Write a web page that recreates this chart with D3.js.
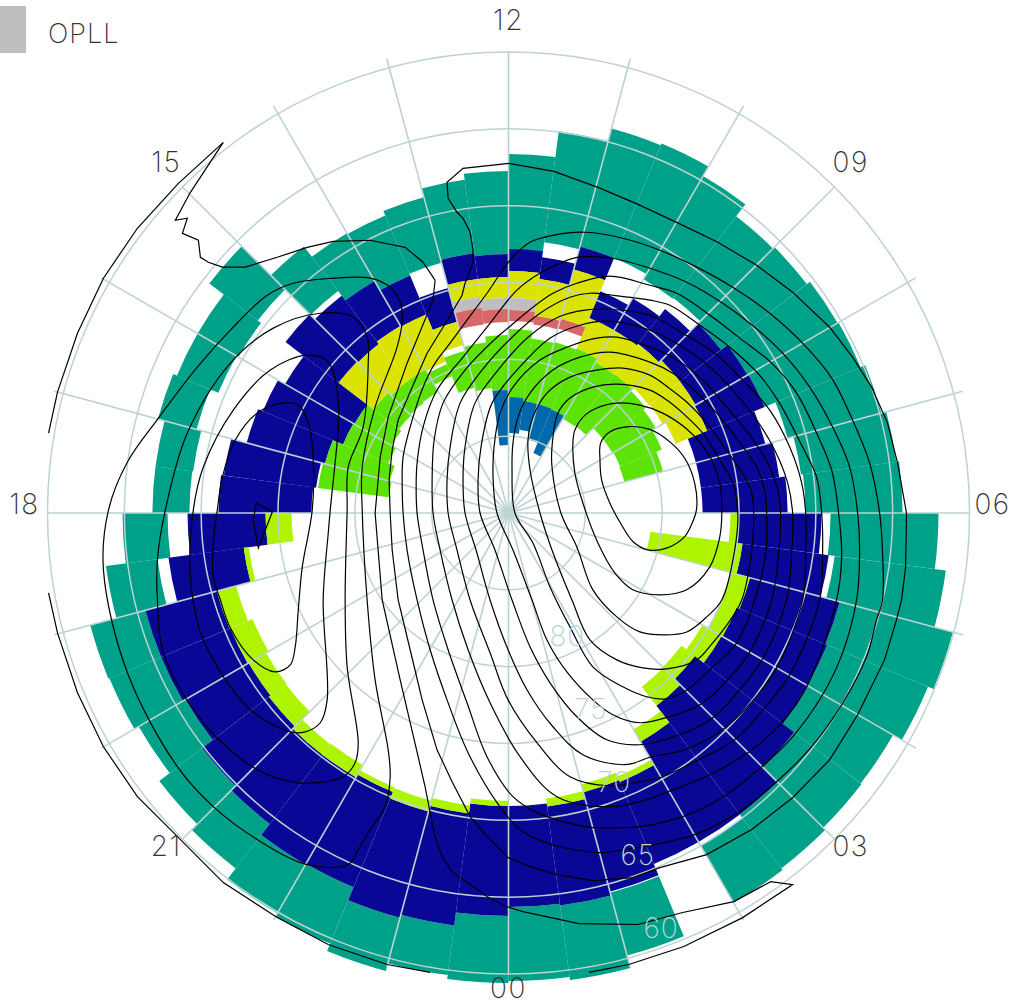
<!DOCTYPE html>
<html>
<head>
<meta charset="utf-8">
<script src="https://cdn.jsdelivr.net/npm/d3@7"></script>
<style>
  html, body { margin: 0; padding: 0; background: #fff; }
  text { font-family: Inter, Lato, sans-serif; font-weight: 200; }
</style>
</head>
<body>
<div id="container"></div>
<script>
// half hour MLT bins, clockwise from noon
const mltBins = [12,11.5,11,10.5,10,9.5,9,8.5,8,7.5,7,6.5,6,5.5,5,4.5,4,3.5,3,2.5,2,1.5,1,0.5,0,23.5,23,22.5,22,21.5,21,20.5,20,19.5,19,18.5,18,17.5,17,16.5,16,15.5,15,14.5,14,13.5,13,12.5]

const hourLabels = ['00', '03', '06', '09', '12', '15', '18', '21']
const latLabels = [60, 65, 70, 75, 80]
const latRings = [60, 65, 70, 75, 80, 85]

const tealPole = [72.88,72.23,72.04,72.04,72.43,72.36,72.56,72.04,71.97,71.19,70.80,70.67,69.04,68.59,67.68,67.55,67.48,66.57,65.27,65.01,null,64.42,64.23,64.36,63.77,62.93,62.73,63.64,63.58,64.49,64.88,65.73,65.53,65.53,66.96,67.81,69.24,69.30,68.98,69.56,69.70,69.43,71.78,72.56,73.27,73.14,72.95,73.14]
const tealEq = [66.64,64.94,64.10,63.97,64.68,65.66,65.53,65.27,65.20,64.88,64.55,64.36,62.02,61.30,60.06,60.45,61.10,61.04,60.84,60.71,null,60.19,59.35,59.54,59.41,59.67,59.15,59.67,59.93,60.84,61.36,62.21,61.89,61.82,63.58,64.88,66.83,66.83,66.38,66.64,66.64,65.46,68.13,68.98,69.04,68.72,68.13,67.74]

const navyPole = [74.25,74.64,73.60,76.27,76.27,76.14,75.94,75.94,76.01,77.37,77.37,77.37,75.03,74.64,73.73,73.93,73.99,74.71,74.19,72.82,71.06,71.19,70.74,70.93,70.93,70.28,69.89,70.35,70.15,70.15,70.35,70.48,70.41,70.35,72.62,74.19,77.18,77.37,77.63,78.35,78.42,76.07,76.14,75.94,76.01,77.11,74.64,74.64]
const navyEq = [72.82,73.21,72.04,74.38,73.86,73.27,72.56,72.04,71.97,72.69,72.23,71.84,69.63,68.98,67.68,67.55,67.48,66.57,65.27,65.27,65.27,64.49,64.23,64.36,63.77,62.93,62.73,63.64,63.58,64.49,64.88,65.73,65.53,65.53,67.68,69.11,71.13,71.32,72.36,72.69,73.21,71.71,72.17,72.56,73.27,74.84,72.95,73.14]

const limeBins = [12,13,14,15,16,17,18,19,20,21,22,24,25,26,27,28,29,30,31,32,33,34,35]
const limePole = [75.55,80.69,75.03,74.97,75.42,75.81,75.75,73.73,71.45,71.71,71.26,71.26,70.80,70.61,70.67,71.06,71.00,71.71,71.78,71.97,71.65,72.95,75.88]
const limeEq = [75.03,74.64,73.73,73.93,73.99,74.71,74.19,72.82,71.06,71.19,70.74,70.93,70.28,69.89,70.35,70.15,70.15,70.35,70.48,70.41,70.35,72.62,74.19]

const yellowBins = [0,1,2,3,4,5,6,7,8,41,42,43,44,45,46,47]
const yellowPole = [76.01,77.05,76.92,78.42,78.68,78.61,78.48,78.42,78.22,78.94,79.20,79.20,79.33,78.68,75.81,76.01]
const yellowEq = [74.25,74.64,73.60,76.27,76.27,76.14,75.94,75.94,76.01,76.07,76.14,75.94,76.01,77.11,74.64,74.64]

const grayBins = [46,47,0]
const grayPole = [76.53,76.72,76.79]
const grayEq = [75.81,76.01,76.01]

const redBins = [46,47,0,1,2]
const redPole = [77.63,77.57,77.50,77.63,77.57]
const redEq = [76.53,76.72,76.79,77.05,76.92]

const greenBins = [0,1,2,3,4,5,6,7,8,9,37,38,39,40,41,42,43,44,45,46,47]
const greenPole = [82.45,82.65,82.65,82.71,82.91,82.84,82.19,82.19,82.13,82.19,82.13,81.99,81.54,81.21,81.02,80.95,80.89,80.37,81.54,81.80,81.99]
const greenEq = [78.03,78.55,78.48,78.42,78.68,78.61,78.74,78.94,79.20,79.59,77.50,77.63,78.35,78.42,78.94,79.20,79.20,79.52,79.07,78.81,78.42]

const blueBins = [47,0,1,2,3]
const bluePole = [85.57,84.79,84.53,85.05,85.77]
const blueEq = [81.99,82.45,82.65,82.65,82.71]

// potential contours, [east, north] in degrees of colatitude from the pole
const dawn1 = [[5.95,3.56],[5.99,4.53],[6.6,5.28],[7.68,5.61],[9.2,5.44],[10.5,4.63],[11.47,3.56],[12.12,1.93],[12.23,0.2],[11.8,-0.99],[11.47,-1.54],[10.28,-2.29],[9.09,-2.4],[8.11,-1.87],[7.36,-0.78],[6.6,0.63],[6.06,2.15]]
const dawn2 = [[4.19,4.55],[4.32,5.4],[4.84,6.24],[5.75,6.83],[7.05,7.15],[8.55,7.02],[10.04,6.5],[11.67,5.4],[12.97,3.9],[13.75,1.95],[13.88,0],[13.75,-1.56],[13.1,-3.51],[11.6,-5.0],[9.85,-5.33],[8.09,-5.0],[6.92,-3.9],[5.82,-1.95],[4.84,0.65],[4.32,2.6]]
const dawn3 = [[3.41,0],[2.83,2.99],[2.83,4.29],[3.22,6.5],[4.0,7.48],[5.49,8.19],[7.05,8.39],[9.2,8.0],[10.3,7.35],[11.34,6.5],[12.64,5.2],[13.88,3.25],[14.59,1.95],[14.92,0],[14.72,-2.41],[13.88,-5.66],[12.9,-6.76],[11.6,-7.74],[10.17,-7.93],[8.55,-7.74],[7.05,-6.76],[5.49,-5.0],[4.45,-2.21]]
const dawn4 = [[2.05,0],[1.4,2.8],[1.27,4.75],[1.59,6.24],[2.5,7.8],[4.0,8.84],[5.75,9.3],[7.44,9.43],[9.2,8.97],[10.37,8.19],[11.6,7.22],[12.9,5.85],[14.27,3.97],[15.37,2.34],[15.83,1.3],[15.96,0],[15.83,-2.41],[15.18,-5.66],[14.07,-7.48],[13.29,-8.45],[12.25,-9.56],[10.3,-10.14],[8.74,-10.08],[7.05,-9.56],[5.3,-8.26],[4.13,-5.66],[2.83,-2.41]]
const dawn5 = [[0.42,0],[0.23,2.8],[0.29,4.55],[0.62,6.24],[1.4,7.8],[2.89,9.3],[4.65,10.14],[6.6,10.47],[9.2,9.82],[10.69,9.1],[11.93,8.13],[13.55,6.5],[14.92,4.75],[16.15,2.99],[16.67,1.5],[16.8,0],[16.74,-2.6],[16.02,-5.66],[14.85,-8.45],[13.23,-10.08],[11.54,-11.57],[10.24,-12.09],[9.0,-11.96],[7.44,-11.31],[5.49,-10.01],[4.0,-7.41],[2.7,-4.81],[1.59,-1.95]]
const dawn6 = [[-0.75,0],[-1.0,2.15],[-0.94,4.29],[-0.55,6.5],[0.29,8.19],[2.05,9.95],[3.8,10.79],[5.75,11.38],[7.05,11.44],[9.2,10.79],[10.69,10.14],[12.45,8.84],[14.2,6.89],[15.7,5.07],[16.87,3.25],[17.52,1.5],[17.71,0],[17.58,-2.6],[17.13,-5.66],[15.7,-9.04],[14.14,-10.99],[12.45,-12.48],[10.63,-13.2],[8.55,-13.65],[6.79,-13.13],[5.49,-12.16],[3.8,-10.34],[2.5,-8.26],[1.53,-5.66],[0.29,-2.41]]
const dawn7 = [[-1.85,0],[-1.98,2.15],[-1.79,4.29],[-1.07,7.15],[0.55,9.3],[2.7,11.38],[4.65,12.22],[6.4,12.48],[9.2,11.9],[11.34,10.79],[12.97,9.62],[14.59,8.0],[16.15,6.05],[17.32,4.1],[18.17,1.95],[18.49,0],[18.43,-2.6],[18.1,-5.66],[16.54,-9.49],[15.05,-11.5],[13.29,-13.33],[11.15,-14.43],[8.55,-15.08],[6.4,-14.76],[4.45,-13.26],[2.7,-11.05],[1.4,-8.71],[0.23,-5.66],[-0.88,-2.41]]
const dawn8 = [[-2.83,0],[-2.96,2.15],[-2.83,4.29],[-2.18,7.15],[-0.68,9.3],[1.27,11.44],[3.22,12.74],[4.97,13.2],[6.6,13.26],[9.2,12.87],[11.34,11.7],[13.42,10.4],[15.37,8.52],[17.0,6.7],[18.3,4.29],[19.08,1.95],[19.34,0],[19.34,-2.6],[19.14,-5.66],[17.45,-10.08],[15.83,-12.29],[14.01,-14.04],[11.47,-15.41],[9.33,-15.86],[7.57,-16.38],[4.84,-15.73],[2.89,-13.91],[1.2,-11.5],[-0.03,-8.9],[-1.2,-5.66],[-2.11,-2.41]]
const dawn9 = [[-3.93,0],[-4.0,2.15],[-3.8,4.29],[-3.15,7.15],[-1.72,9.3],[0.23,11.44],[2.05,13.0],[4.0,14.04],[5.3,14.3],[6.79,14.17],[9.2,13.85],[10.5,13.52],[12.45,12.22],[14.4,10.79],[16.22,9.1],[17.52,7.35],[19.14,4.29],[20.05,2.34],[20.38,0],[20.44,-2.6],[20.25,-5.66],[18.3,-10.53],[16.67,-12.68],[14.72,-14.76],[12.12,-16.19],[9.85,-17.23],[8.55,-17.49],[6.6,-17.75],[4.0,-17.16],[1.85,-14.95],[-0.03,-12.16],[-1.2,-9.1],[-2.5,-5.66],[-3.35,-2.41]]
const dawn10 = [[-4.91,0],[-4.97,2.15],[-4.84,4.75],[-4.26,7.15],[-2.83,9.3],[-0.75,11.44],[0.03,12.09],[1.59,13.39],[2.89,14.3],[4.45,14.95],[6.6,15.41],[9.2,14.82],[10.95,14.3],[13.29,12.74],[15.05,11.38],[17.13,9.75],[18.75,7.8],[20.05,5.2],[21.03,2.8],[21.48,0],[21.68,-2.73],[21.35,-5.66],[19.47,-11.18],[17.84,-13.59],[15.57,-15.6],[13.1,-17.03],[10.37,-18.14],[9.0,-18.66],[6.6,-19.11],[3.15,-18.46],[0.75,-15.86],[-1.2,-12.35],[-2.63,-8.9],[-3.67,-5.66],[-4.45,-2.41]]
const dawn11 = [[-5.95,0],[-6.01,1.69],[-5.95,3.25],[-5.56,5.59],[-4.65,8.0],[-2.96,10.14],[-1.4,12.09],[0.55,14.5],[2.05,15.6],[4.45,16.64],[6.73,16.58],[9.2,15.93],[11.6,15.02],[13.94,13.65],[15.7,12.35],[17.84,10.4],[19.6,8.19],[21.09,5.59],[22.2,2.99],[22.72,0],[22.85,-2.73],[22.65,-5.66],[21.74,-9.1],[20.44,-11.83],[18.43,-14.63],[16.48,-16.51],[13.88,-18.53],[11.34,-19.76],[8.55,-20.41],[7.38,-20.48],[5.49,-20.48],[3.8,-20.15],[1.85,-19.5],[0.29,-18.46],[-1.4,-15.86],[-2.7,-12.35],[-3.93,-8.9],[-4.91,-5.66],[-5.56,-2.41]]
const dawn12 = [[-6.86,0],[-6.92,1.95],[-6.86,3.64],[-6.27,6.05],[-5.56,8.19],[-4.78,9.75],[-3.8,11.05],[-2.7,12.55],[-1.4,14.3],[0.1,16.45],[1.4,17.62],[2.89,18.07],[5.04,18.27],[7.44,17.88],[9.85,17.1],[12.25,16.0],[14.59,14.69],[17.0,13.0],[19.14,11.05],[21.03,8.78],[22.39,6.05],[23.5,3.25],[24.15,0],[24.34,-2.6],[24.34,-5.66],[23.95,-6.96],[23.3,-9.36],[21.68,-12.48],[19.73,-15.21],[17.45,-17.49],[15.05,-19.43],[12.12,-20.93],[8.35,-21.78],[5.95,-22.1],[4.19,-21.9],[2.24,-21.39],[0.75,-20.6],[-0.75,-18.85],[-2.63,-15.6],[-4.0,-12.16],[-5.1,-8.9],[-5.95,-5.66],[-6.6,-2.41]]
const dawn13 = [[-7.7,0],[-7.77,2.15],[-7.57,4.1],[-7.18,6.05],[-6.27,8.19],[-5.3,10.4],[-4.26,12.09],[-3.02,14.17],[-2.83,14.95],[-2.31,16.25],[-2.31,17.1],[-2.5,18.27],[-2.96,19.18],[-3.35,19.57],[-3.93,20.48],[-4.0,21.52],[-2.96,22.43],[0.03,22.75],[2.96,22.23],[5.82,21.19],[8.29,20.15],[11.08,18.85],[13.62,17.62],[16.15,16.12],[18.49,14.37],[20.9,12.09],[22.39,10.14],[23.63,8.19],[24.67,5.85],[25.32,3.25],[25.9,0],[25.84,-3.51],[25.58,-5.66],[25.25,-6.96],[24.47,-9.56],[22.72,-13.13],[20.9,-16.06],[18.49,-18.53],[15.83,-20.6],[12.9,-22.23],[9.85,-23.08],[8.09,-23.73],[5.49,-23.92],[3.15,-23.53],[1.4,-23.01],[-0.03,-22.43],[-1.4,-21.06],[-2.5,-19.76],[-3.67,-17.49],[-4.65,-15.41],[-5.62,-12.16],[-6.4,-8.9],[-7.18,-5.66],[-7.57,-2.41]]

const dusk1 = [[-16.41,0.65],[-15.37,0.07],[-16.28,-2.28],[-16.61,-0.46]]
const dusk2 = [[-18.95,0.2],[-18.62,2.34],[-17.78,4.75],[-16.35,6.5],[-14.72,7.15],[-13.68,7.02],[-13.03,5.92],[-12.71,3.45],[-12.77,0.2],[-13.42,-3.51],[-13.68,-6.31],[-13.88,-8.71],[-14.2,-9.88],[-15.18,-10.34],[-16.61,-9.56],[-18.1,-7.48],[-18.75,-5.66],[-19.21,-4.16],[-19.21,-1.95]]
const dusk3 = [[-20.51,0.2],[-19.86,2.99],[-17.91,6.7],[-15.5,9.3],[-13.1,10.27],[-11.73,9.82],[-11.08,7.35],[-11.08,5.59],[-11.6,0.2],[-11.73,-1.3],[-12.06,-5.66],[-11.8,-12.16],[-12.25,-13.65],[-13.23,-14.24],[-14.2,-14.24],[-16.8,-12.8],[-19.86,-8.26],[-20.7,-4.16]]
const dusk4 = [[-22.33,0.2],[-20.9,5.2],[-18.1,9.75],[-15.31,12.03],[-12.25,13.0],[-10.11,12.74],[-9.2,11.44],[-9.13,9.75],[-9.46,5.59],[-10.43,2.99],[-10.5,0.2],[-10.63,-5.66],[-10.5,-10.01],[-9.78,-14.95],[-9.98,-16.25],[-10.76,-17.16],[-12.45,-17.55],[-13.75,-17.55],[-16.35,-16.71],[-19.86,-13.65],[-22.46,-9.1],[-22.85,-5.66],[-22.85,-3.06]]
const dusk5 = [[-26.03,0.2],[-24.8,3.32],[-22.78,6.18],[-20.25,9.49],[-18.1,11.9],[-15.7,14.17],[-14.0,14.95],[-11.41,15.28],[-9.0,15.28],[-7.7,14.69],[-7.05,13.72],[-6.92,12.55],[-7.25,10.79],[-8.68,6.89],[-9.52,2.99],[-9.52,0.2],[-9.2,-5.66],[-8.68,-10.86],[-7.83,-15.41],[-7.7,-17.16],[-8.03,-19.11],[-9.0,-20.6],[-9.78,-21.9],[-10.43,-22.88],[-13.1,-22.88],[-16.35,-21.25],[-19.21,-19.11],[-21.55,-16.51],[-24.8,-10.4],[-26.36,-3.7]]
// these two run off the edge of the grid, so they stay open
const dusk6 = [[-29.93,5.2],[-29.35,7.87],[-28.05,11.7],[-26.36,15.28],[-24.15,18.53],[-21.48,21.45],[-18.56,24.12],[-20.7,20.87],[-21.68,19.05],[-20.9,19.18],[-21.22,18.2],[-20.18,17.75],[-20.05,16.64],[-19.53,16.32],[-18.62,16.0],[-17.13,16.0],[-15.05,16.64],[-13.1,17.29],[-11.41,17.68],[-9.0,17.75],[-6.73,17.29],[-5.56,16.32],[-4.78,15.15],[-4.91,13.85],[-6.6,9.75],[-7.83,6.24],[-8.35,3.64],[-8.68,0],[-8.22,-5.66],[-7.05,-10.86],[-5.88,-15.86],[-5.43,-17.81],[-5.1,-19.5],[-4.78,-21.06],[-4.32,-22.36],[-3.67,-23.34],[-1.4,-24.96],[-0.16,-25.61],[0.94,-25.94],[4.58,-26.72],[8.42,-26.78],[11.34,-26.0],[14.66,-25.29],[17.06,-23.99],[18.49,-24.18],[15.24,-26.33],[11.41,-28.21],[7.83,-29.38],[5.23,-29.9]]
const dusk7 = [[-29.93,-5.2],[-29.35,-7.8],[-28.05,-11.7],[-26.36,-15.21],[-24.15,-18.46],[-21.8,-20.8],[-18.56,-24.05],[-15.05,-26.33],[-11.73,-28.08],[-7.9,-29.38],[-5.1,-29.9]]

const closedContours = [dawn1, dawn2, dawn3, dawn4, dawn5, dawn6, dawn7, dawn8, dawn9, dawn10, dawn11, dawn12, dusk2, dusk3, dusk4, dusk5]
const polyContours = [dawn13, dusk1]
const openContours = [dusk6, dusk7]

const width = 1016
const height = 1004
const cx = 508.5
const cy = 513
const outerR = 461
const gridColor = '#bcd2d3'

const rScale = d3.scaleLinear().domain([90, 60]).range([0, outerR])
// clockwise from the top, so noon is up and dawn is on the right
const angle = d3.scaleLinear().domain([0, 24]).range([Math.PI, -Math.PI])
const binWidth = Math.PI / 24
const xScale = d3.scaleLinear().domain([-30, 30]).range([cx - outerR, cx + outerR])
const yScale = d3.scaleLinear().domain([-30, 30]).range([cy + outerR, cy - outerR])

const svg = d3.select('#container').append('svg')
    .attr('width', width)
    .attr('height', height)
    .style('display', 'block')

const plot = svg.append('g').attr('transform', `translate(${cx},${cy})`)
const arc = d3.arc()

function drawBars(bins, pole, eq, color){
    bins.forEach((b, i) => {
        if (pole[i] === null) return
        const a = angle(mltBins[b])
        plot.append('path')
            .attr('d', arc({
                innerRadius: rScale(pole[i]),
                outerRadius: rScale(eq[i]),
                startAngle: a,
                endAngle: a + binWidth
            }))
            .attr('fill', color)
    })
}

const allBins = d3.range(48)
drawBars(allBins, tealPole, tealEq, '#00a189')
drawBars(allBins, navyPole, navyEq, '#090896')
drawBars(limeBins, limePole, limeEq, '#aef300')
drawBars(yellowBins, yellowPole, yellowEq, '#dbe400')
drawBars(grayBins, grayPole, grayEq, '#bfbdc0')
drawBars(redBins, redPole, redEq, '#d86767')
drawBars(greenBins, greenPole, greenEq, '#5de308')
drawBars(blueBins, bluePole, blueEq, '#0069ab')

// grid
plot.selectAll('circle.ring')
    .data(latRings)
    .enter()
    .append('circle')
    .attr('class', 'ring')
    .attr('r', d => rScale(d))
    .attr('fill', 'none')
    .attr('stroke', gridColor)
    .attr('stroke-width', 1.5)

plot.selectAll('line.spoke')
    .data(d3.range(24))
    .enter()
    .append('line')
    .attr('class', 'spoke')
    .attr('x2', h => rScale(h % 3 === 0 ? 60 : 59.4) * Math.sin(angle(h)))
    .attr('y2', h => -rScale(h % 3 === 0 ? 60 : 59.4) * Math.cos(angle(h)))
    .attr('stroke', gridColor)
    .attr('stroke-width', 1.6)

// contours
const closedLine = d3.line()
    .x(d => xScale(d[0]))
    .y(d => yScale(d[1]))
    .curve(d3.curveCatmullRomClosed.alpha(0.5))
const openLine = d3.line()
    .x(d => xScale(d[0]))
    .y(d => yScale(d[1]))
const polyLine = d3.line()
    .x(d => xScale(d[0]))
    .y(d => yScale(d[1]))
    .curve(d3.curveLinearClosed)

const contours = svg.append('g')
    .attr('fill', 'none')
    .attr('stroke', '#000')
    .attr('stroke-width', 1.2)
closedContours.forEach(c => contours.append('path').attr('d', closedLine(c)))
polyContours.forEach(c => contours.append('path').attr('d', polyLine(c)))
openContours.forEach(c => contours.append('path').attr('d', openLine(c)))

// latitude labels sit just off the 01 MLT side of each ring
svg.selectAll('text.lat')
    .data(latLabels)
    .enter()
    .append('text')
    .attr('class', 'lat')
    .attr('x', d => cx + 0.305 * rScale(d) + 12)
    .attr('y', d => cy + 0.951 * rScale(d) - 23)
    .attr('dy', '0.36em')
    .attr('text-anchor', 'middle')
    .attr('font-size', 28)
    .attr('letter-spacing', 1)
    .attr('fill', gridColor)
    .text(d => d)

// hour labels
svg.selectAll('text.hour')
    .data(hourLabels)
    .enter()
    .append('text')
    .attr('class', 'hour')
    .attr('x', d => cx + 484 * Math.sin(angle(+d)))
    .attr('y', d => cy - 9 - 484 * Math.cos(angle(+d)))
    .attr('dy', '0.36em')
    .attr('text-anchor', 'middle')
    .attr('font-size', 28)
    .attr('letter-spacing', 1.5)
    .attr('fill', '#333')
    .text(d => d)

// legend
svg.append('rect')
    .attr('x', 0)
    .attr('y', 6)
    .attr('width', 26)
    .attr('height', 47)
    .attr('fill', '#bfbdc0')
svg.append('text')
    .attr('x', 48)
    .attr('y', 43)
    .attr('font-size', 27)
    .attr('letter-spacing', 1)
    .attr('fill', '#333')
    .text('OPLL')
</script>
</body>
</html>
